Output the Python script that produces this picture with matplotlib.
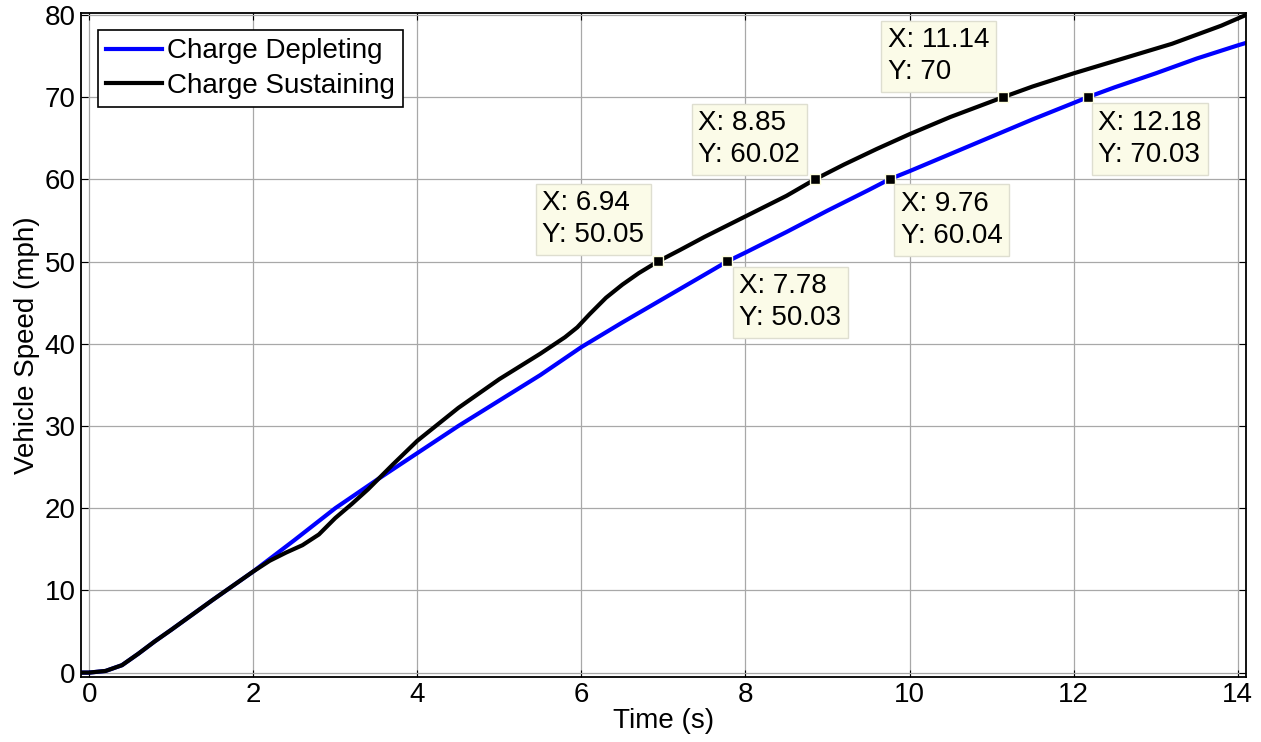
import matplotlib
matplotlib.use('Agg')
import matplotlib.pyplot as plt

plt.rcParams['font.family'] = ['Liberation Sans', 'DejaVu Sans']

# Charge Depleting (azul)
t_cd = [-0.1, 0, 0.2, 0.4, 0.6, 0.8, 1.0, 1.5, 2.0, 2.5, 3.0, 3.5, 4.0, 4.5, 5.0,
        5.5, 6.0, 6.5, 7.0, 7.5, 7.78, 8.0, 8.5, 9.0, 9.5, 9.76, 10.0, 10.5,
        11.0, 11.5, 12.0, 12.18, 12.5, 13.0, 13.5, 14.0, 14.1]
v_cd = [0, 0, 0.2, 0.9, 2.3, 3.8, 5.2, 8.8, 12.3, 16.1, 20.0, 23.4, 26.7, 30.0,
        33.1, 36.2, 39.6, 42.6, 45.5, 48.4, 50.03, 51.1, 53.6, 56.2, 58.7, 60.04,
        61.0, 63.1, 65.2, 67.3, 69.3, 70.03, 71.2, 72.9, 74.7, 76.3, 76.6]

# Charge Sustaining (negro)
t_cs = [-0.1, 0, 0.2, 0.4, 0.6, 0.8, 1.0, 1.5, 2.0, 2.2, 2.4, 2.6, 2.8, 3.0, 3.2,
        3.4, 3.7, 4.0, 4.5, 5.0, 5.5, 5.8, 5.95, 6.1, 6.3, 6.5, 6.7, 6.94, 7.2,
        7.5, 8.0, 8.5, 8.85, 9.2, 9.6, 10.0, 10.5, 11.14, 11.5, 12.0, 12.5,
        13.0, 13.2, 13.5, 13.8, 14.1]
v_cs = [0, 0, 0.2, 0.9, 2.3, 3.8, 5.2, 8.8, 12.3, 13.6, 14.6, 15.5, 16.8, 18.8,
        20.5, 22.3, 25.3, 28.2, 32.2, 35.7, 38.8, 40.8, 42.0, 43.6, 45.6, 47.2,
        48.6, 50.05, 51.4, 53.0, 55.5, 58.0, 60.02, 61.8, 63.7, 65.5, 67.6, 70.0,
        71.3, 72.9, 74.4, 75.9, 76.5, 77.6, 78.7, 80.0]

# Data tips
tip_x = [6.94, 7.78, 8.85, 9.76, 11.14, 12.18]
tip_y = [50.05, 50.03, 60.02, 60.04, 70, 70.03]
tip_txt = ['X: 6.94\nY: 50.05', 'X: 7.78\nY: 50.03', 'X: 8.85\nY: 60.02',
           'X: 9.76\nY: 60.04', 'X: 11.14\nY: 70', 'X: 12.18\nY: 70.03']
# offsets (pixeles) y alineacion de cada caja
tip_off = [(-14, 13, 'right', 'bottom'), (12, -12, 'left', 'top'),
           (-15, 11, 'right', 'bottom'), (11, -12, 'left', 'top'),
           (-14, 12, 'right', 'bottom'), (10, -13, 'left', 'top')]

fig = plt.figure(figsize=(12.61, 7.42), dpi=100)
ax = fig.add_axes([0.0642, 0.088, 0.9238, 0.894])

ax.plot(t_cd, v_cd, color='#0000ff', lw=3.0, label='Charge Depleting')
ax.plot(t_cs, v_cs, color='black', lw=3.0, label='Charge Sustaining')

ax.plot(tip_x, tip_y, ls='none', marker='s', ms=7.5, mfc='black',
        mec='#ffffe0', mew=1.0, zorder=5)
for x, y, s, (dx, dy, ha, va) in zip(tip_x, tip_y, tip_txt, tip_off):
    ax.annotate(s, xy=(x, y), xytext=(dx, dy), textcoords='offset pixels',
                ha=ha, va=va, multialignment='left', fontsize=20,
                linespacing=1.3, zorder=6,
                bbox=dict(boxstyle='square,pad=0.24', fc='#fbfbe8',
                          ec='#deded0', lw=1))

ax.set_xlim(-0.1, 14.1)
ax.set_ylim(-0.5, 80.2)
ax.set_xticks(range(0, 15, 2))
ax.set_yticks(range(0, 81, 10))
ax.grid(True, color='#a8a8a8', lw=0.9, ls='-')
ax.set_axisbelow(True)
ax.tick_params(direction='in', top=True, right=True, length=5,
               labelsize=20, pad=4)
for sp in ax.spines.values():
    sp.set_linewidth(1.3)

ax.set_xlabel('Time (s)', fontsize=20, labelpad=0)
ax.set_ylabel('Vehicle Speed (mph)', fontsize=20, labelpad=3)

leg = ax.legend(loc='upper left', fontsize=20, fancybox=False,
                framealpha=1, edgecolor='black', handlelength=2.0,
                handletextpad=0.2, borderpad=0.3, labelspacing=0.3,
                borderaxespad=0.6)
leg.get_frame().set_linewidth(1.2)

plt.savefig('out.png', dpi=100)
